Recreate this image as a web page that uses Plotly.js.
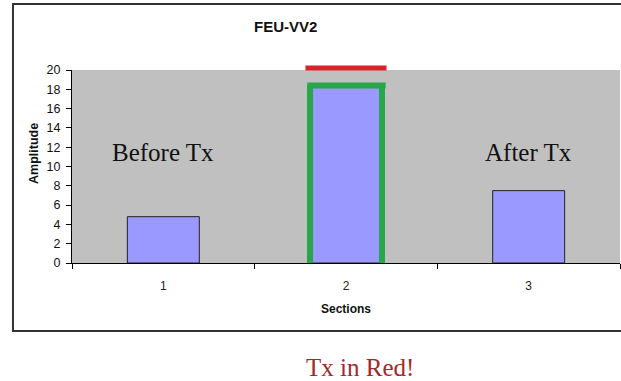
<!DOCTYPE html>
<html>
<head>
<meta charset="utf-8">
<script src="https://cdn.plot.ly/plotly-3.0.1.min.js"></script>
<style>
html,body{margin:0;padding:0;background:#fff;}
#chart{width:621px;height:381px;}
</style>
</head>
<body>
<div id="chart"></div>
<script>
// Data
var sections = ['1', '2', '3'];
var amplitude = [4.8, 18.4, 7.5];
var sideLabels = ['Before Tx', '', 'After Tx'];
var sideLabelY = 11.4;
var txLevel = 20.2;          // red marker level (above the 20 ceiling)
var highlightIndex = 1;      // section "2"
var chartTitle = 'FEU-VV2';
var xTitle = 'Sections';
var yTitle = 'Amplitude';
var footnote = 'Tx in Red!';

var bargap = 0.606;
var halfBar = (1 - bargap) / 2;

var yTop = 20;
function paperY(v) { return v / yTop; }

var shapes = [
  // outer chart frame
  {type: 'rect', xref: 'paper', yref: 'paper', x0: -0.1077, x1: 1.02, y0: -0.3523, y1: 1.342,
   line: {color: '#333', width: 2}, fillcolor: 'rgba(0,0,0,0)', layer: 'below'},
  // green highlight (three sides)
  {type: 'line', xref: 'x', yref: 'y', x0: highlightIndex - halfBar, x1: highlightIndex - halfBar,
   y0: 0, y1: amplitude[highlightIndex], line: {color: '#27a748', width: 6}},
  {type: 'line', xref: 'x', yref: 'y', x0: highlightIndex + halfBar, x1: highlightIndex + halfBar,
   y0: 0, y1: amplitude[highlightIndex], line: {color: '#27a748', width: 6}},
  {type: 'line', xref: 'x', yref: 'y', x0: highlightIndex - halfBar - 0.015, x1: highlightIndex + halfBar + 0.02,
   y0: amplitude[highlightIndex], y1: amplitude[highlightIndex], line: {color: '#27a748', width: 6}},
  // red Tx bar
  {type: 'line', xref: 'x', yref: 'paper', x0: highlightIndex - halfBar - 0.025, x1: highlightIndex + halfBar + 0.025,
   y0: paperY(txLevel), y1: paperY(txLevel), line: {color: '#d8232b', width: 5}}
];

var annotations = [];
sections.forEach(function (s, i) {
  if (sideLabels[i]) {
    annotations.push({x: i, y: sideLabelY, xref: 'x', yref: 'y', xanchor: 'center', yanchor: 'middle',
      text: sideLabels[i], showarrow: false,
      font: {family: 'Liberation Serif, Times New Roman, serif', size: 25, color: '#111'}});
  }
});
annotations.push({x: 0.526, y: -0.54, xref: 'paper', yref: 'paper', xanchor: 'center', yanchor: 'middle',
  text: footnote, showarrow: false,
  font: {family: 'Liberation Serif, Times New Roman, serif', size: 25, color: '#9c2c2c'}});
annotations.push({x: 0.39, y: 1.223, xref: 'paper', yref: 'paper', xanchor: 'center', yanchor: 'middle',
  text: '<b>' + chartTitle + '</b>', showarrow: false,
  font: {family: 'Liberation Sans, Arial, sans-serif', size: 15, color: '#111'}});
annotations.push({x: -0.0695, y: 0.57, xref: 'paper', yref: 'paper', xanchor: 'center', yanchor: 'middle',
  text: '<b>' + yTitle + '</b>', textangle: -90, showarrow: false,
  font: {family: 'Liberation Sans, Arial, sans-serif', size: 12.5, color: '#111'}});

var trace = {
  type: 'bar',
  x: sections,
  y: amplitude,
  marker: {color: '#9999ff', line: {color: '#222', width: 1}},
  hoverinfo: 'skip'
};

var layout = {
  width: 621, height: 381,
  margin: {l: 72, r: 1, t: 70, b: 118, pad: 0},
  paper_bgcolor: '#ffffff',
  plot_bgcolor: '#c0c0c0',
  bargap: bargap,
  showlegend: false,
  font: {family: 'Liberation Sans, Arial, sans-serif', size: 11, color: '#111'},
  xaxis: {
    type: 'category',
    range: [-0.5, sections.length - 0.5],
    autorange: false,
    showline: true, linecolor: '#000', linewidth: 1,
    ticks: 'outside', tickson: 'boundaries', ticklen: 5, tickcolor: '#000',
    ticklabelstandoff: 12,
    showgrid: false, zeroline: false,
    tickfont: {size: 12, color: '#222'},
    title: {text: '<b>' + xTitle + '</b>', font: {size: 12, color: '#111'}, standoff: 12}
  },
  yaxis: {
    range: [0, yTop], autorange: false, dtick: 2,
    showline: true, linecolor: '#000', linewidth: 1,
    ticks: 'outside', ticklen: 5, tickcolor: '#000',
    ticklabelstandoff: 3,
    showgrid: false, zeroline: false,
    tickfont: {size: 12.5, color: '#111'}
  },
  shapes: shapes,
  annotations: annotations
};

Plotly.newPlot('chart', [trace], layout, {displayModeBar: false, staticPlot: true});
</script>
</body>
</html>
